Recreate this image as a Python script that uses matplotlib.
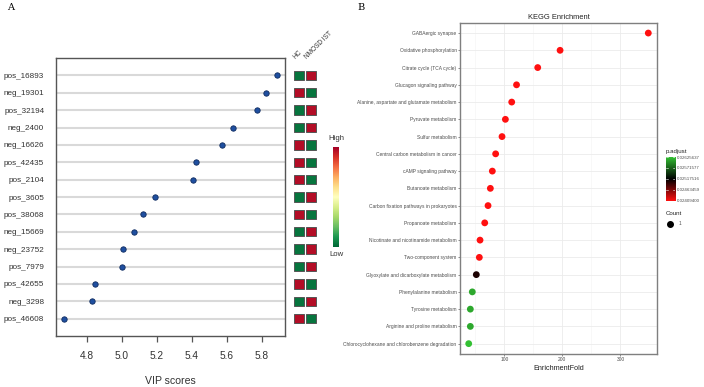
import numpy as np
import matplotlib
matplotlib.use("Agg")
import matplotlib.pyplot as plt
from matplotlib.colors import LinearSegmentedColormap, Normalize
from matplotlib.patches import Rectangle

plt.rcParams["font.family"] = ["Liberation Sans", "DejaVu Sans"]

# ---------------- Panel A data ----------------
features = ["pos_16893", "neg_19301", "pos_32194", "neg_2400", "neg_16626",
            "pos_42435", "pos_2104", "pos_3605", "pos_38068", "neg_15669",
            "neg_23752", "pos_7979", "pos_42655", "neg_3298", "pos_46608"]
vip = [5.886, 5.823, 5.773, 5.638, 5.571, 5.425, 5.407, 5.19, 5.12, 5.069,
       5.007, 5.0, 4.847, 4.829, 4.672]
groups = ["HC", "NMOSD IST"]
# 1 = High, 0 = Low
hc_level = [0, 1, 0, 0, 1, 1, 1, 0, 1, 0, 0, 0, 1, 0, 1]
ist_level = [1, 0, 1, 1, 0, 0, 0, 1, 0, 1, 1, 1, 0, 1, 0]
vip_ticks = [4.8, 5.0, 5.2, 5.4, 5.6, 5.8]

# ---------------- Panel B data ----------------
pathways = ["GABAergic synapse", "Oxidative phosphorylation", "Citrate cycle (TCA cycle)",
            "Glucagon signaling pathway", "Alanine, aspartate and glutamate metabolism",
            "Pyruvate metabolism", "Sulfur metabolism", "Central carbon metabolism in cancer",
            "cAMP signaling pathway", "Butanoate metabolism",
            "Carbon fixation pathways in prokaryotes", "Propanoate metabolism",
            "Nicotinate and nicotinamide metabolism", "Two-component system",
            "Glyoxylate and dicarboxylate metabolism", "Phenylalanine metabolism",
            "Tyrosine metabolism", "Arginine and proline metabolism",
            "Chlorocyclohexane and chlorobenzene degradation"]
enrich_fold = [348, 196, 157.5, 121, 112.7, 101.8, 96, 85, 79.3, 75.9, 71.9, 66.2,
               58.1, 56.9, 51.7, 44.8, 41.4, 41.4, 38.6]
p_adjust = [0.024094, 0.024094, 0.024094, 0.024094, 0.024094, 0.024094, 0.024094,
            0.024094, 0.024094, 0.024094, 0.024094, 0.024094, 0.024094, 0.024094,
            0.02505, 0.02612, 0.02612, 0.02612, 0.026256]
count = [1] * len(pathways)
padj_ticks = [0.02625637, 0.02571577, 0.02517516, 0.02463459, 0.02409400]
fold_ticks = [100, 200, 300]

W, H = 704, 387
fig = plt.figure(figsize=(W / 100, H / 100), dpi=100)
fig.patch.set_facecolor("white")


def ax_px(l, t, r, b):
    return fig.add_axes([l / W, 1 - b / H, (r - l) / W, (b - t) / H])


# ================= Panel A =================
axA = ax_px(56, 58, 285, 336)
n = len(features)
ypos = np.arange(n)
for y in ypos:
    axA.axhline(y, color="#d9d9d9", lw=1.5, zorder=1)
axA.scatter(vip, ypos, s=15, color="#1f4fa0", edgecolor="#0d2a5e", lw=0.6, zorder=3)
axA.set_ylim(n, -1)
axA.set_xlim(4.625, 5.933)
axA.set_yticks(ypos)
axA.set_yticklabels(features, fontsize=5.9, color="#333333")
axA.set_xticks(vip_ticks)
axA.set_xticklabels([f"{t:.1f}" for t in vip_ticks], fontsize=7.3, color="#333333")
axA.tick_params(axis="y", length=0, pad=8.5)
axA.tick_params(axis="x", length=4.3, width=0.9, color="#555555", pad=6.5)
for sp in axA.spines.values():
    sp.set_color("#555555")
    sp.set_linewidth(1.0)
axA.set_xlabel("VIP scores", fontsize=7.6, color="#333333", labelpad=11)

# heatmap
cmapA = plt.get_cmap("RdYlGn_r")
axH = ax_px(293, 58, 317, 336)
axH.set_xlim(-0.5, 1.5)
axH.set_ylim(n, -1)
axH.axis("off")
for i in range(n):
    for j, lev in enumerate([hc_level[i], ist_level[i]]):
        c = cmapA(0.97 if lev else 0.03)
        axH.add_patch(Rectangle((j - 0.42, i - 0.27), 0.84, 0.54, facecolor=c,
                                edgecolor="#555555", lw=0.7))
for j, g in enumerate(groups):
    axH.text(j - 0.2, -0.88, g, rotation=45, rotation_mode="anchor", ha="left",
             va="bottom", fontsize=4.7, color="#333333")

# colorbar A
axC = ax_px(333, 147, 339, 247)
grad = np.linspace(1, 0, 256).reshape(-1, 1)
axC.imshow(grad, aspect="auto", cmap=cmapA, extent=[0, 1, 0, 1])
axC.set_xticks([]); axC.set_yticks([])
for sp in axC.spines.values():
    sp.set_visible(False)
fig.text(336 / W, 1 - 138 / H, "High", ha="center", va="center", fontsize=5.6, color="#333333")
fig.text(336 / W, 1 - 255 / H, "Low", ha="center", va="center", fontsize=5.6, color="#333333")

# ================= Panel B =================
cmapB = LinearSegmentedColormap.from_list("rbg", ["#ff1010", "#000000", "#33c033"])
normB = Normalize(vmin=0.02409400, vmax=0.02625637)
axB = ax_px(460, 22.7, 657, 354)
m = len(pathways)
yb = np.arange(m)
axB.set_xlim(23.6, 363)
axB.set_ylim(m - 0.4, -0.6)
axB.set_xticks([50, 150, 250], minor=True)
axB.grid(True, which="major", color="#ebebeb", lw=0.6)
axB.grid(True, which="minor", axis="x", color="#f3f3f3", lw=0.4)
axB.set_axisbelow(True)
axB.scatter(enrich_fold, yb, s=24, c=p_adjust, cmap=cmapB, norm=normB, zorder=3, lw=0)
axB.set_yticks(yb)
axB.set_yticklabels(pathways, fontsize=3.5, color="#4d4d4d")
axB.set_xticks(fold_ticks)
axB.set_xticklabels([str(t) for t in fold_ticks], fontsize=3.5, color="#4d4d4d")
axB.tick_params(axis="both", which="major", length=1.5, width=0.4, color="#333333", pad=1)
axB.tick_params(axis="x", which="minor", length=0)
for sp in axB.spines.values():
    sp.set_color("#7f7f7f")
    sp.set_linewidth(1.0)
axB.set_title("KEGG Enrichment", fontsize=5.4, color="#222222", pad=3)
axB.set_xlabel("EnrichmentFold", fontsize=5.2, color="#222222", labelpad=2)

# colorbar B
axCB = ax_px(665.7, 156.7, 675, 201)
gradB = np.linspace(padj_ticks[0], padj_ticks[-1], 256).reshape(-1, 1)
axCB.imshow(gradB, aspect="auto", cmap=cmapB, norm=normB,
            extent=[0, 1, padj_ticks[-1], padj_ticks[0]], origin="upper")
axCB.set_ylim(padj_ticks[-1] - 0.00002, padj_ticks[0] + 0.00002)
axCB.set_xticks([])
axCB.yaxis.tick_right()
axCB.set_yticks(padj_ticks)
axCB.set_yticklabels([f"{t:.8f}" for t in padj_ticks], fontsize=3.2, color="#4d4d4d")
axCB.tick_params(axis="y", length=0, pad=1.5)
for t in padj_ticks:
    axCB.plot([0, 0.2], [t, t], color="white", lw=0.4)
    axCB.plot([0.8, 1], [t, t], color="white", lw=0.4)
axCB.set_xlim(0, 1)
for sp in axCB.spines.values():
    sp.set_visible(False)
fig.text(665.5 / W, 1 - 151.5 / H, "p.adjust", fontsize=4.4, color="#222222", va="center")
fig.text(665.5 / W, 1 - 214 / H, "Count", fontsize=4.4, color="#222222", va="center")
fig.lines.append(plt.Line2D([670 / W], [1 - 224 / H], marker="o", ms=4, color="black",
                            transform=fig.transFigure))
fig.text(678.5 / W, 1 - 224 / H, str(count[0]), fontsize=3.4, color="#4d4d4d", va="center")

# panel letters
fig.text(7 / W, 1 - 8 / H, "A", fontsize=7, family="DejaVu Serif", va="center")
fig.text(357 / W, 1 - 8 / H, "B", fontsize=7, family="DejaVu Serif", va="center")

fig.savefig("out.png", dpi=100, facecolor="white")
